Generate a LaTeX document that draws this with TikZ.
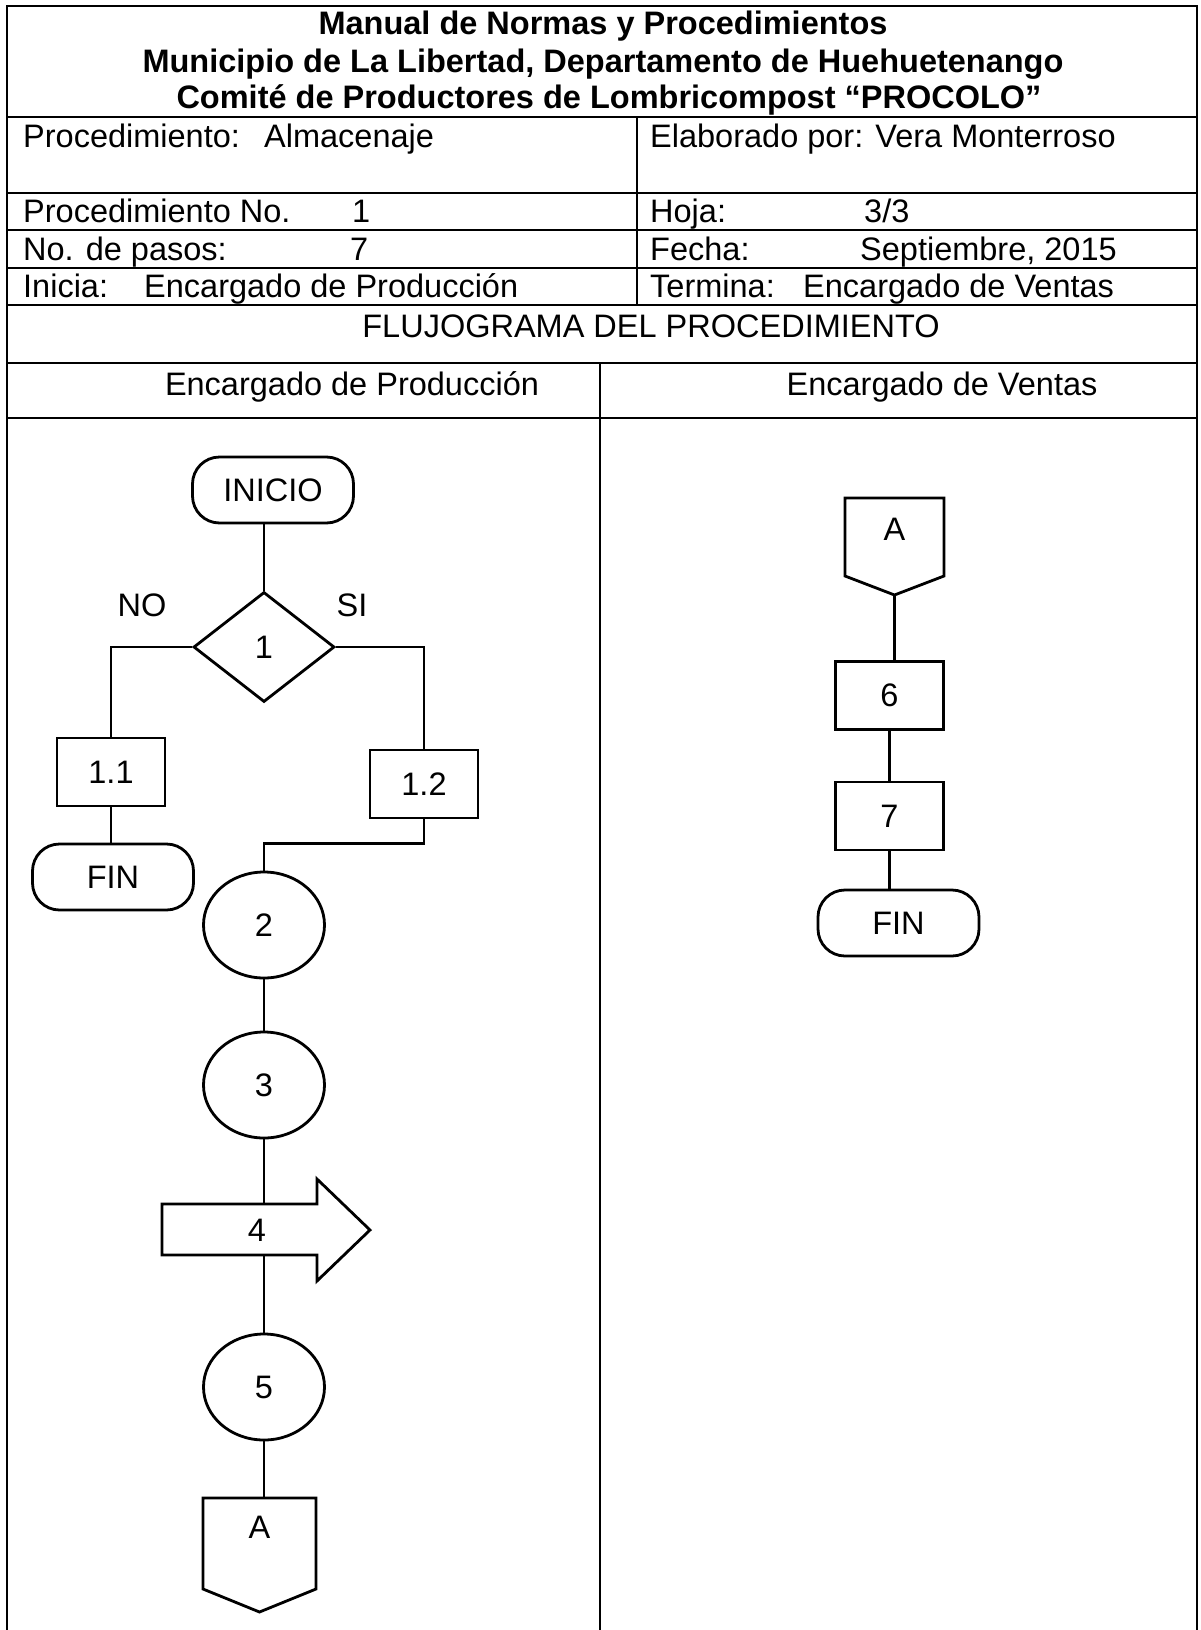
\documentclass[tikz,border=0pt]{standalone}
\usepackage{fontspec}
\setmainfont{Liberation Sans}
\usetikzlibrary{shapes.geometric}
\begin{document}
\begin{tikzpicture}[x=1pt,y=-1pt,
  every node/.style={font=\fontsize{32.5}{38}\selectfont, inner sep=0pt},
  tline/.style={line width=2.4pt},
  fline/.style={line width=2.8pt},
  procbox/.style={draw, fline, minimum width=108pt, minimum height=68pt},
  term/.style={draw, fline, rounded corners=27pt, minimum width=161pt, minimum height=66pt},
  circstep/.style={draw, fline, ellipse, minimum width=121pt, minimum height=106pt},
  decision/.style={draw, fline, diamond, minimum width=141pt, minimum height=110pt},
  celltext/.style={anchor=base west},
  ctext/.style={anchor=base},
  titletext/.style={anchor=base, font=\fontsize{32.5}{38}\selectfont\bfseries},
  link/.style={fline}
]
\useasboundingbox (0,0) rectangle (1200,1630);
\fill[white] (0,0) rectangle (1200,1630);

% form frame and rows
\draw[tline] (7,1630) -- (7,6) -- (1197,6) -- (1197,1630);
\foreach \yy in {117,193,230,268,305,363,418} \draw[tline] (7,\yy) -- (1197,\yy);
\draw[tline] (637,117) -- (637,305);
\draw[tline] (600,363) -- (600,1630);

% heading
\node[titletext] (t1) at (603,34) {Manual de Normas y Procedimientos};
\node[titletext] (t2) at (603,72) {Municipio de La Libertad, Departamento de Huehuetenango};
\node[titletext] (t3) at (609,108) {Comité de Productores de Lombricompost “PROCOLO”};

% form fields
\node[celltext] (p1) at (23,147) {Procedimiento:};
\node[celltext] (p1v) at (264,147) {Almacenaje};
\node[celltext] (e1) at (650,147) {Elaborado por: Vera Monterroso};
\node[celltext] (p2) at (23,222) {Procedimiento No.};
\node[celltext] (p2v) at (352,222) {1};
\node[celltext] (h) at (650,222) {Hoja:};
\node[celltext] (hv) at (864,222) {3/3};
\node[celltext] (n) at (23,260) {No. de pasos:};
\node[celltext] (nv) at (350,260) {7};
\node[celltext] (f) at (650,260) {Fecha:};
\node[celltext] (fv) at (860,260) {Septiembre, 2015};
\node[celltext] (i) at (23,297) {Inicia:};
\node[celltext] (iv) at (144,297) {Encargado de Producción};
\node[celltext] (t) at (650,297) {Termina:};
\node[celltext] (tv) at (803,297) {Encargado de Ventas};
\node[ctext] (flu) at (651,337) {FLUJOGRAMA DEL PROCEDIMIENTO};
\node[ctext] (lane1) at (352,395) {Encargado de Producción};
\node[ctext] (lane2) at (942,395) {Encargado de Ventas};

% production lane
\node[term] (inicio) at (273,490) {INICIO};
\node[decision] (d1) at (264,647) {1};
\node (no) at (142,605) {NO};
\node (si) at (352,605) {SI};
\node[procbox] (b11) at (111,772) {1.1};
\node[term] (finL) at (113,877) {FIN};
\node[procbox] (b12) at (424,784) {1.2};
\node[circstep] (c2) at (264,925) {2};
\node[circstep] (c3) at (264,1085) {3};
% transport arrow
\draw[fline] (162,1204) -- (317,1204) -- (317,1179) -- (370,1230) -- (317,1281)
  -- (317,1255) -- (162,1255) -- cycle;
\node (s4) at (257,1230) {4};
\coordinate (s4top) at (264,1204);
\coordinate (s4bot) at (264,1255);
\node[circstep] (c5) at (264,1387) {5};
% off-page connector
\draw[fline] (203,1498) -- (316,1498) -- (316,1589) -- (259.5,1612) -- (203,1589) -- cycle;
\node (aL) at (259.5,1527) {A};
\coordinate (aLtop) at (264,1498);

\draw[link] (inicio.south -| d1.north) -- (d1.north);
\draw[link] (d1.west) -| (b11.north);
\draw[link] (b11.south) -- (finL.north -| b11.south);
\draw[link] (d1.east) -| (b12.north);
\draw[link] (b12.south) -- ++(0,24) -| (c2.north);
\draw[link] (c2.south) -- (c3.north);
\draw[link] (c3.south) -- (s4top);
\draw[link] (s4bot) -- (c5.north);
\draw[link] (c5.south) -- (aLtop);

% sales lane
\draw[fline] (845,498) -- (944,498) -- (944,576) -- (894.5,595) -- (845,576) -- cycle;
\node (aR) at (894.5,529) {A};
\coordinate (aRtip) at (894.5,595);
\node[procbox] (b6) at (889.5,695.5) {6};
\node[procbox] (b7) at (889.5,816) {7};
\node[term] (finR) at (898.5,923) {FIN};

\draw[link] (aRtip) -- (aRtip |- b6.north);
\draw[link] (b6.south) -- (b7.north);
\draw[link] (b7.south) -- (b7.south |- finR.north);
\end{tikzpicture}
\end{document}
